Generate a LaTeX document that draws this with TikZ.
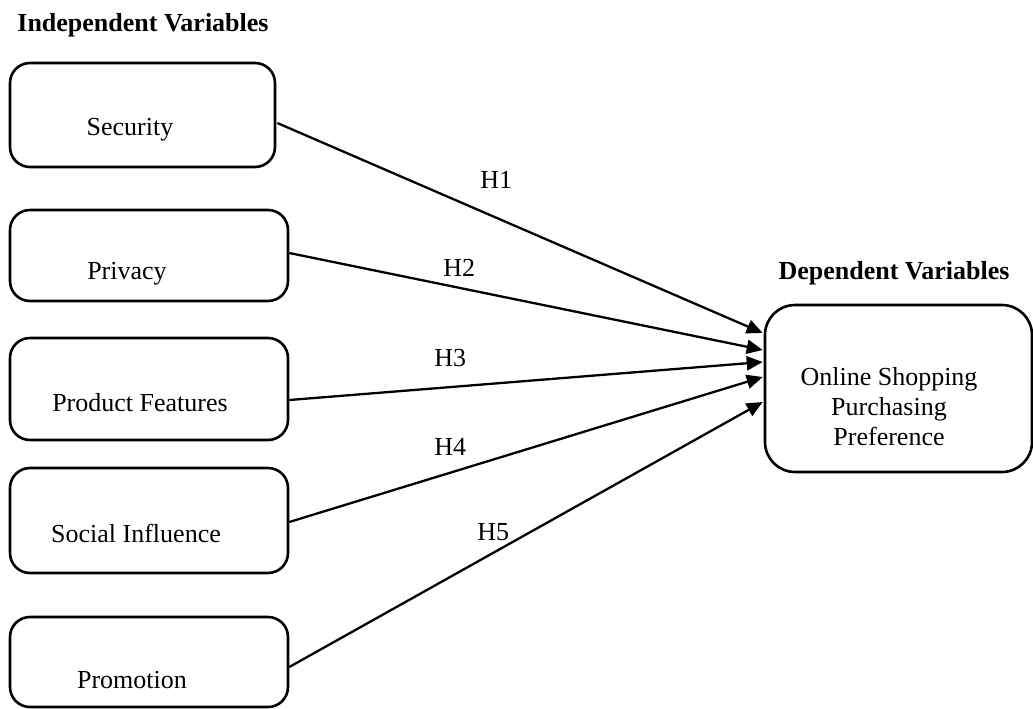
\documentclass[tikz,border=0pt]{standalone}
\usepackage{fontspec}
\setmainfont{Liberation Serif}
\usetikzlibrary{calc,arrows.meta}
\begin{document}
\begin{tikzpicture}[x=1pt, y=-1pt, font=\fontsize{26}{30}\selectfont]
      \tikzstyle{STY1} = [draw, rectangle, line width=2.6pt, inner sep=0pt, rounded corners=20pt]
      \tikzstyle{STY2} = [-{Triangle[length=16pt, width=14pt]}, line width=2.3pt]
      \tikzstyle{STY3} = [anchor=center, inner sep=0pt]

      \useasboundingbox (0,0) rectangle (1033,709);

      %%%%% HEADINGS
      \node[STY3](hi) at (143, 25) {\bfseries Independent Variables};
      \node[STY3](hd) at (894, 273) {\bfseries Dependent Variables};

      %%%%% VERTEX
      \node[STY1, minimum width=265pt, minimum height=104pt](v1) at (142.5, 115) {};
      \node[STY1, minimum width=278pt, minimum height=91pt](v2) at (149, 255.5) {};
      \node[STY1, minimum width=278pt, minimum height=102pt](v3) at (149, 389) {};
      \node[STY1, minimum width=278pt, minimum height=105pt](v4) at (149, 520.5) {};
      \node[STY1, minimum width=278pt, minimum height=90pt](v5) at (149, 662) {};

      \node[STY1, minimum width=267pt, minimum height=167pt, rounded corners=30pt](v6) at (898.5, 388.5) {};

      \node[STY3](t1) at (130, 130) {Security};
      \node[STY3](t2) at (127, 274) {Privacy};
      \node[STY3](t3) at (140, 403) {Product Features};
      \node[STY3](t4) at (136, 533) {Social Influence};
      \node[STY3](t5) at (132, 680) {Promotion};
      \node[STY3, align=center](t6) at (889, 407) {Online Shopping\\Purchasing\\Preference};

      %%%%% EDGES
      \coordinate (s1) at ($(v1.east)+(1,8)$);
      \coordinate (s2) at ($(v2.east)+(0,-2.5)$);
      \coordinate (s3) at ($(v3.east)+(0,11)$);
      \coordinate (s4) at ($(v4.east)+(0,1.5)$);
      \coordinate (s5) at ($(v5.east)+(0,5)$);

      \coordinate (e1) at ($(v6.west)+(-1,-55.5)$);
      \coordinate (e2) at ($(v6.west)+(-1,-38.5)$);
      \coordinate (e3) at ($(v6.west)+(-1,-26.5)$);
      \coordinate (e4) at ($(v6.west)+(-1,-11.5)$);
      \coordinate (e5) at ($(v6.west)+(-1,13.5)$);

      \draw[STY2]  (s1) -- node[STY3, pos=0.451, yshift=38pt](h1) {H1} (e1);
      \draw[STY2]  (s2) -- node[STY3, pos=0.359, yshift=20pt](h2) {H2} (e2);
      \draw[STY2]  (s3) -- node[STY3, pos=0.340, yshift=29pt](h3) {H3} (e3);
      \draw[STY2]  (s4) -- node[STY3, pos=0.340, yshift=26pt](h4) {H4} (e4);
      \draw[STY2]  (s5) -- node[STY3, pos=0.431, yshift=21pt](h5) {H5} (e5);
    \end{tikzpicture}
\end{document}
